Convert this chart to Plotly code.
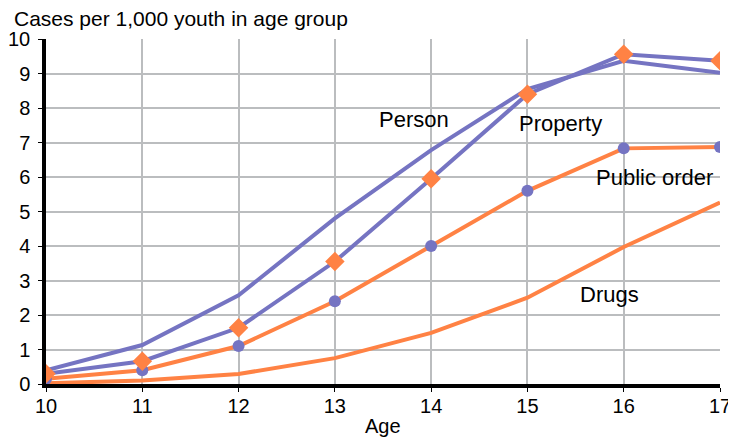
import plotly.graph_objects as go

ages = [10, 11, 12, 13, 14, 15, 16, 17]
person = [0.4, 1.13, 2.57, 4.8, 6.78, 8.55, 9.37, 9.02]
property_ = [0.3, 0.66, 1.63, 3.55, 5.95, 8.4, 9.56, 9.37]
public_order = [0.15, 0.4, 1.1, 2.4, 4.0, 5.6, 6.83, 6.87]
drugs = [0.02, 0.1, 0.29, 0.75, 1.48, 2.5, 3.97, 5.26]

labels = ["Person", "Property", "Public order", "Drugs"]
label_x = [13.82, 15.34, 16.32, 15.85]
label_y = [7.68, 7.54, 6.0, 2.58]

PURPLE = "#7574C2"
ORANGE = "#FF8244"
FONT = "Liberation Sans, Arial, sans-serif"

fig = go.Figure()
fig.add_trace(go.Scatter(x=ages, y=drugs, mode="lines",
                         line=dict(color=ORANGE, width=4)))
fig.add_trace(go.Scatter(x=ages, y=public_order, mode="lines+markers",
                         line=dict(color=ORANGE, width=4),
                         marker=dict(color=PURPLE, size=12, symbol="circle")))
fig.add_trace(go.Scatter(x=ages, y=person, mode="lines",
                         line=dict(color=PURPLE, width=4)))
fig.add_trace(go.Scatter(x=ages, y=property_, mode="lines+markers",
                         line=dict(color=PURPLE, width=4),
                         marker=dict(color=ORANGE, size=15, symbol="diamond")))

for t, x, y in zip(labels, label_x, label_y):
    fig.add_annotation(x=x, y=y, text=t, showarrow=False,
                       font=dict(size=22, color="black", family=FONT))

# y-axis caption sits above the plot, left aligned
fig.add_annotation(xref="paper", yref="paper", x=-0.049, y=1.058,
                   xanchor="left", yanchor="middle", showarrow=False,
                   borderpad=0, text="Cases per 1,000 youth in age group",
                   font=dict(size=21, color="black", family=FONT))
# x-axis caption
fig.add_annotation(xref="paper", yref="paper", x=0.5, y=-0.122,
                   xanchor="center", yanchor="middle", showarrow=False,
                   text="Age", font=dict(size=20, color="black", family=FONT))

# page body has an 8px margin, so the figure is a bit smaller than the window
fig.update_layout(
    width=728, height=431,
    margin=dict(l=38, r=16, t=31, b=55),
    plot_bgcolor="white", paper_bgcolor="white",
    showlegend=False,
    font=dict(family=FONT, size=20, color="black"),
)
fig.update_xaxes(range=[10, 17], dtick=1, showgrid=True, gridcolor="#BBBDBF",
                 gridwidth=2, showline=True, linecolor="black", linewidth=3.5,
                 ticks="outside", ticklen=4, tickcolor="black", zeroline=False,
                 automargin=False, ticklabelstandoff=-3)
fig.update_yaxes(range=[0, 10], dtick=1, showgrid=True, gridcolor="#BBBDBF",
                 gridwidth=2, showline=True, linecolor="black", linewidth=3.5,
                 ticks="outside", ticklen=4, tickcolor="black", zeroline=False,
                 automargin=False, ticklabelstandoff=4)

fig.write_html("out.html")
